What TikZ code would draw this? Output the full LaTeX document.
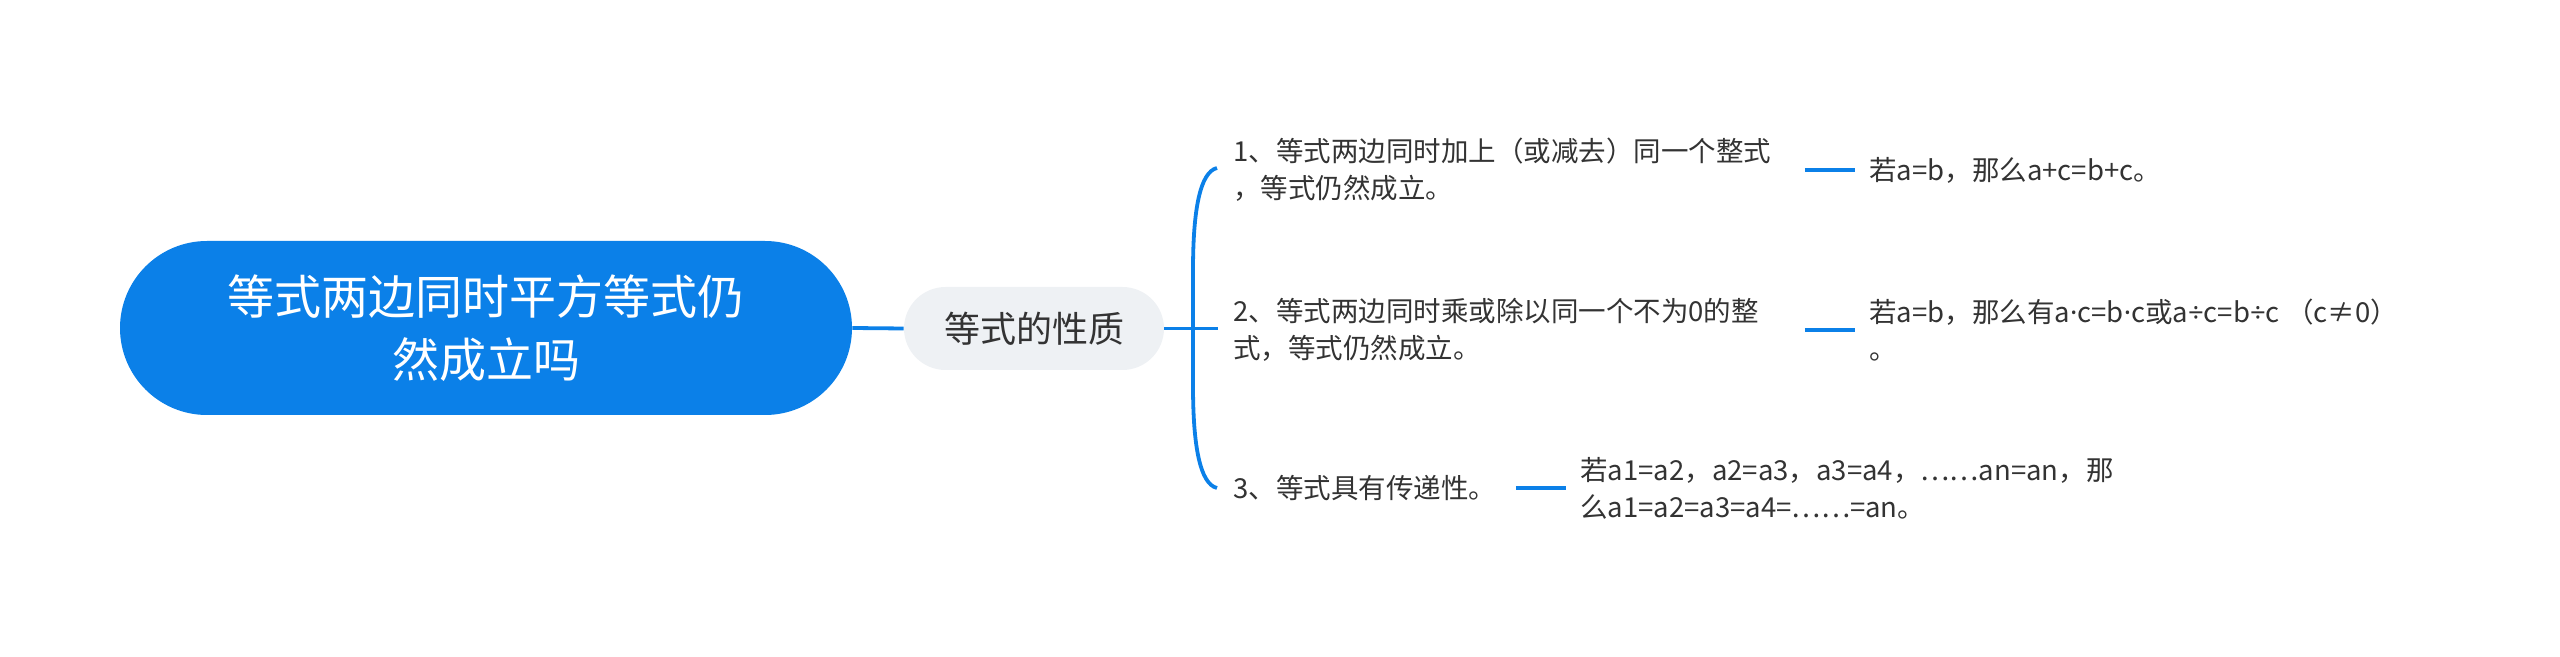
\documentclass[tikz,border=0pt]{standalone}
\usepackage{fontspec}
\setmainfont{Noto Sans CJK SC}
\newfontfamily\latf{Noto Sans}
\usetikzlibrary{calc}
\definecolor{mblue}{HTML}{0B80E8}
\definecolor{gfill}{HTML}{EEF1F4}
\definecolor{tcol}{HTML}{333333}
\newcommand{\mdot}{{\latf ·}}
\newcommand{\mdiv}{{\latf ÷}}
\begin{document}
\begin{tikzpicture}[x=0.5pt,y=-0.5pt,
  link/.style={draw=mblue,line width=1.9pt},
  leaf/.style={font=\fontsize{13.75}{18.5}\selectfont,text=tcol,inner sep=0pt,align=left,anchor=west}]
\useasboundingbox (0,0) rectangle (2560,657);
\node[fill=mblue, rounded corners=43.5pt, minimum width=366pt, minimum height=87pt, text=white, align=center, font=\fontsize{23.5}{31.5}\selectfont, inner sep=0pt] (root) at (486,328) {等式两边同时平方等式仍\\然成立吗};
\node[fill=gfill, rounded corners=20.75pt, minimum width=130pt, minimum height=41.5pt, font=\fontsize{18}{22}\selectfont, text=tcol, inner sep=0pt] (prop) at (1034,328.5) {等式的性质};
\node[leaf, text width=278.5pt] (t1) at (1233,170) {1、等式两边同时加上（或减去）同一个整式\\，等式仍然成立。};
\node[leaf, text width=278.5pt] (t2) at (1233,330) {2、等式两边同时乘或除以同一个不为0的整\\式，等式仍然成立。};
\node[leaf, text width=134pt] (t3) at (1233,488) {3、等式具有传递性。};
\node[leaf] (c1) at (1869,170) {若a=b，那么a+c=b+c。};
\node[leaf] (c2) at (1869,330) {若a=b，那么有a\mdot c=b\mdot c或a\mdiv c=b\mdiv c （c≠0）\\。};
\node[leaf] (c3) at (1580,488) {若a1=a2，a2=a3，a3=a4，……an=an，那\\么a1=a2=a3=a4=……=an。};
\draw[link] (root.east) -- (prop.west);
\draw[link, shorten >=7.5pt] (prop.east) -- (prop.east -| t2.west);
\coordinate (bt) at ($(t1.west)+(-16,-2)$);
\coordinate (bb) at ($(t3.west)+(-16,0)$);
\draw[link] (bt) .. controls (1200,172) and (1193,210) .. (1193,270) -- (1193,386) .. controls (1193,446) and (1200,484) .. (bb);
\draw[link, shorten <=7pt, shorten >=7pt] (t1.east) -- (c1.west);
\draw[link, shorten <=7pt, shorten >=7pt] (t2.east) -- (c2.west);
\draw[link, shorten <=7pt, shorten >=7pt] (t3.east) -- (c3.west);
\end{tikzpicture}
\end{document}
